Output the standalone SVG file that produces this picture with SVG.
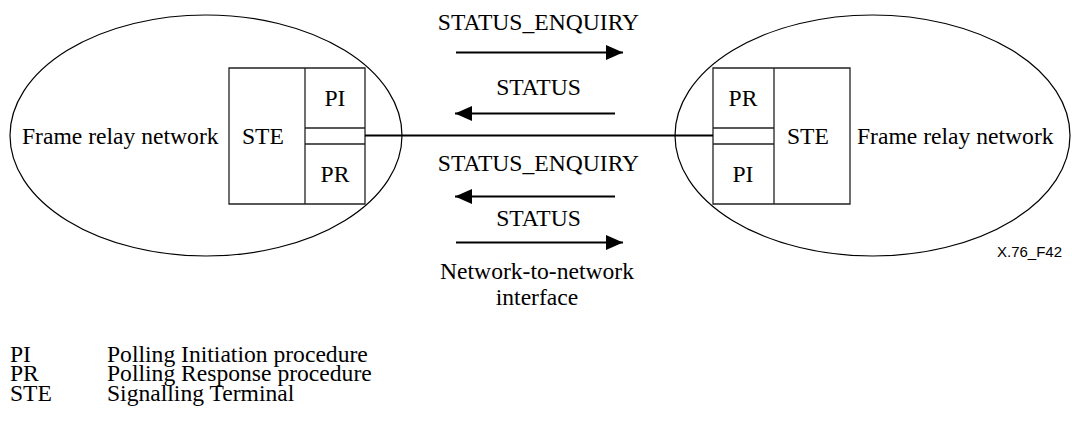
<svg xmlns="http://www.w3.org/2000/svg" width="1072" height="426" viewBox="0 0 1072 426">
<style>
text{font-family:"Liberation Serif","Times New Roman",serif;font-size:23.6px;fill:#000}
.sans{font-family:"Liberation Sans",Arial,sans-serif;font-size:15px}
.mid{text-anchor:middle}
.ell{fill:none;stroke:#000;stroke-width:1.2}
.box{fill:none;stroke:#222;stroke-width:1.3}
.link{stroke:#000;stroke-width:2;fill:none}
.arr{stroke:#000;stroke-width:2.2;fill:none;marker-end:url(#ah)}
</style>
<defs>
<marker id="ah" markerUnits="userSpaceOnUse" markerWidth="18" markerHeight="16" refX="17" refY="7.5" orient="auto">
<path d="M0,0 L17,7.5 L0,15 z" fill="#000"/>
</marker>
</defs>
<g id="left-network">
<ellipse class="ell" cx="206" cy="135.5" rx="196" ry="120.5"/>
<text x="22" y="144">Frame relay network</text>
</g>
<g id="left-ste">
<path class="box" d="M229,68 H365 V204 H229 Z M305,68 V204 M305,128 H365 M305,144 H365"/>
<text x="242" y="144">STE</text>
<text class="mid" x="335" y="106">PI</text>
<text class="mid" x="335" y="182">PR</text>
</g>
<g id="right-network">
<ellipse class="ell" cx="872.5" cy="135.5" rx="197.5" ry="120.5"/>
<text x="857" y="144">Frame relay network</text>
</g>
<g id="right-ste">
<path class="box" d="M713,68 H850 V204 H713 Z M774,68 V204 M713,128 H774 M713,144 H774"/>
<text x="787" y="144">STE</text>
<text class="mid" x="743" y="106">PR</text>
<text class="mid" x="743" y="182">PI</text>
</g>
<g id="connectors">
<line class="link" x1="365" y1="135.5" x2="713" y2="135.5"/>
<line class="arr" x1="456" y1="52.5" x2="623" y2="52.5"/>
<line class="arr" x1="615" y1="113.5" x2="455" y2="113.5"/>
<line class="arr" x1="615" y1="196.5" x2="455" y2="196.5"/>
<line class="arr" x1="456" y1="242.5" x2="623" y2="242.5"/>
</g>
<g id="labels">
<text class="mid" x="538.5" y="30">STATUS_ENQUIRY</text>
<text class="mid" x="538.5" y="95">STATUS</text>
<text class="mid" x="538.5" y="171">STATUS_ENQUIRY</text>
<text class="mid" x="538.5" y="226">STATUS</text>
<text class="mid" x="537" y="279">Network-to-network</text>
<text class="mid" x="537" y="305">interface</text>
<text class="sans" x="1062" y="257" text-anchor="end">X.76_F42</text>
</g>
<g id="legend">
<text x="10" y="362">PI</text>
<text x="107" y="362">Polling Initiation procedure</text>
<text x="10" y="381">PR</text>
<text x="107" y="381">Polling Response procedure</text>
<text x="10" y="401">STE</text>
<text x="107" y="401">Signalling Terminal</text>
</g>
</svg>
